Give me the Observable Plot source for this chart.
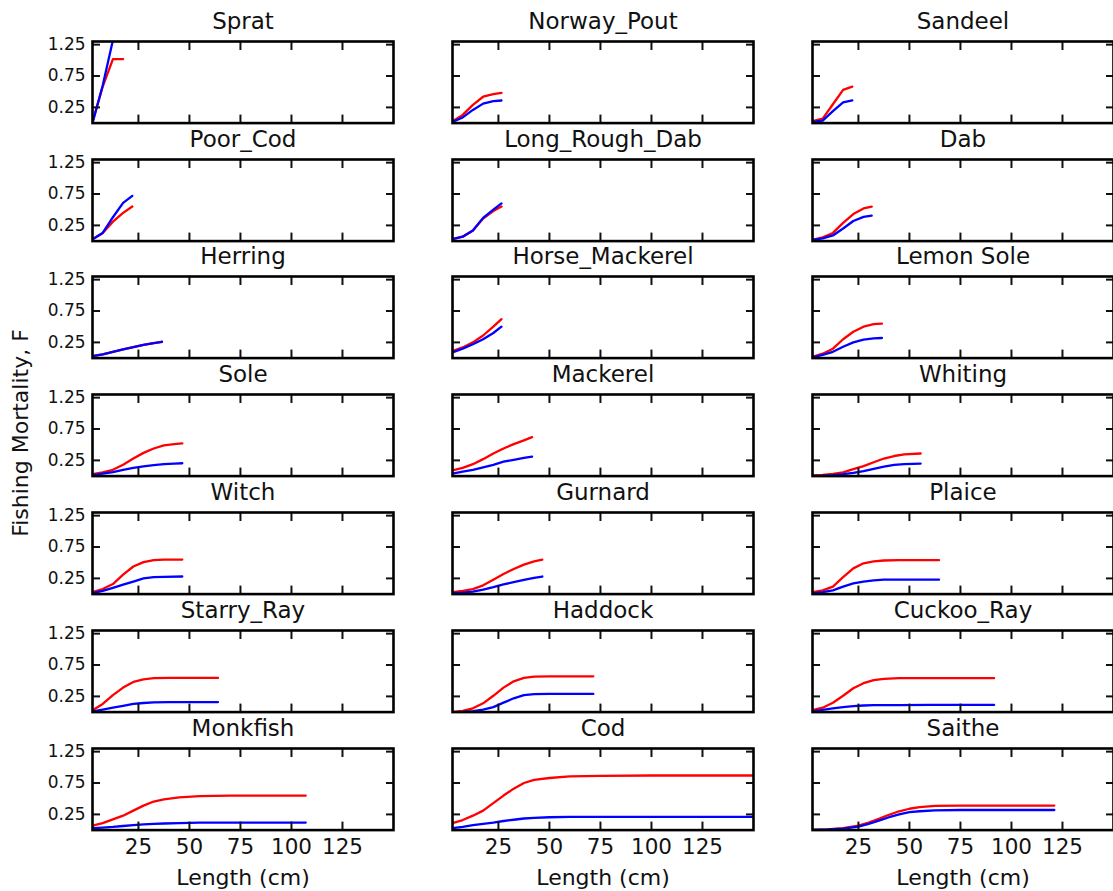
<!DOCTYPE html>
<html><head><meta charset="utf-8">
<script src="https://cdn.jsdelivr.net/npm/d3@7"></script>
<script src="https://cdn.jsdelivr.net/npm/@observablehq/plot@0.6"></script>
<style>
html,body{margin:0;padding:0;background:#fff;overflow:hidden}
#fig{position:relative;width:1113px;height:891px;font-family:"DejaVu Sans",sans-serif;color:#111}
#fig svg{position:absolute;overflow:visible;background:none}
#ylab{position:absolute;left:21px;top:433px;transform:translate(-50%,-50%) rotate(-90deg);white-space:nowrap;font-size:22px;line-height:1}
</style></head><body><div id="fig"><div id="ylab">Fishing Mortality, F</div></div>
<script>
// species names in grid order (row-major, 3 columns)
const species = ["Sprat","Norway_Pout","Sandeel","Poor_Cod","Long_Rough_Dab","Dab",
  "Herring","Horse_Mackerel","Lemon Sole","Sole","Mackerel","Whiting",
  "Witch","Gurnard","Plaice","Starry_Ray","Haddock","Cuckoo_Ray","Monkfish","Cod","Saithe"];
const xTicks = [25, 50, 75, 100, 125];
const yTicks = [0.25, 0.75, 1.25];
const xLabel = "Length (cm)";

// each row: [length (cm), F red series, F blue series]
const sprat = [[2.5,.02,0],[7.5,.58,.6],[12.5,1.02,1.32],[17.5,1.02,1.6]];
const norwayPout = [[2.5,.03,.02],[7.5,.13,.09],[12.5,.29,.21],[17.5,.42,.31],[22.5,.46,.35],[26.5,.48,.36]];
const sandeel = [[2.5,.03,.02],[7.5,.07,.04],[12.5,.30,.19],[17.5,.53,.33],[22,.58,.36]];
const poorCod = [[2.5,.03,.03],[7.5,.13,.13],[12.5,.31,.38],[17.5,.45,.61],[22,.55,.72]];
const longRoughDab = [[2.5,.03,.03],[7.5,.07,.07],[12.5,.17,.17],[17.5,.36,.37],[22.5,.48,.50],[26.5,.55,.60]];
const dab = [[2.5,.02,.02],[7.5,.06,.045],[12.5,.13,.09],[17.5,.29,.2],[22.5,.43,.32],[27.5,.52,.385],[31.5,.55,.405]];
const herring = [[2.5,.03,.03],[7.5,.06,.06],[12.5,.10,.10],[17.5,.14,.14],[22.5,.175,.175],[27.5,.21,.21],[32.5,.24,.24],[36.5,.26,.26]];
const horseMackerel = [[2.5,.11,.09],[7.5,.17,.15],[12.5,.25,.22],[17.5,.36,.30],[22.5,.50,.40],[26.5,.62,.50]];
const lemonSole = [[2.5,.02,.01],[7.5,.07,.05],[12.5,.15,.10],[17.5,.30,.18],[22.5,.42,.25],[27.5,.50,.295],[32.5,.54,.315],[36.5,.55,.32]];
const sole = [[2.5,.03,.015],[7.5,.06,.04],[12.5,.10,.065],[17.5,.18,.10],[22.5,.28,.13],[27.5,.37,.155],[32.5,.44,.175],[37.5,.49,.19],[42.5,.51,.20],[46.5,.52,.205]];
const mackerel = [[2.5,.09,.04],[7.5,.13,.07],[12.5,.19,.10],[17.5,.27,.14],[22.5,.36,.18],[27.5,.44,.23],[32.5,.51,.26],[37.5,.57,.29],[41.5,.62,.31]];
const whiting = [[2.5,.01,.005],[7.5,.02,.008],[12.5,.035,.015],[17.5,.06,.03],[22.5,.11,.05],[27.5,.16,.08],[32.5,.22,.115],[37.5,.28,.15],[42.5,.32,.18],[47.5,.345,.19],[55.5,.36,.20]];
const witch = [[2.5,.03,.015],[7.5,.08,.05],[12.5,.16,.10],[17.5,.31,.15],[22.5,.44,.20],[27.5,.51,.25],[32.5,.54,.27],[37.5,.55,.275],[46.5,.55,.28]];
const gurnard = [[2.5,.03,.015],[7.5,.05,.025],[12.5,.08,.04],[17.5,.14,.07],[22.5,.23,.11],[27.5,.32,.155],[32.5,.40,.19],[37.5,.47,.225],[42.5,.52,.26],[46.5,.55,.28]];
const plaice = [[2.5,.03,.01],[7.5,.06,.03],[12.5,.12,.06],[17.5,.27,.12],[22.5,.41,.17],[27.5,.49,.20],[32.5,.52,.22],[37.5,.535,.23],[45,.54,.23],[55,.54,.23],[64.5,.54,.23]];
const starryRay = [[2.5,.03,.01],[7.5,.13,.04],[12.5,.27,.07],[17.5,.39,.10],[22.5,.48,.13],[27.5,.52,.145],[32.5,.54,.155],[40,.545,.16],[50,.545,.16],[64,.545,.16]];
const haddock = [[2.5,.005,0],[7.5,.02,.005],[12.5,.06,.015],[17.5,.14,.04],[22.5,.26,.08],[27.5,.39,.15],[32.5,.49,.22],[37.5,.545,.27],[42.5,.565,.285],[50,.57,.29],[60,.57,.29],[71.5,.57,.29]];
const cuckooRay = [[2.5,.03,.01],[7.5,.07,.035],[12.5,.15,.06],[17.5,.26,.08],[22.5,.38,.095],[27.5,.46,.105],[32.5,.51,.11],[37.5,.53,.11],[45,.54,.11],[60,.54,.115],[75,.54,.115],[91.5,.54,.115]];
const monkfish = [[2.5,.07,.03],[7.5,.11,.04],[12.5,.17,.05],[17.5,.23,.065],[22.5,.31,.08],[27.5,.39,.09],[32.5,.455,.10],[37.5,.49,.105],[45,.52,.11],[55,.54,.12],[70,.55,.12],[85,.55,.12],[107,.55,.12]];
const cod = [[2.5,.11,.03],[7.5,.16,.05],[12.5,.23,.08],[17.5,.31,.10],[22.5,.43,.12],[27.5,.55,.145],[32.5,.66,.165],[37.5,.75,.185],[42.5,.80,.195],[50,.83,.205],[60,.855,.21],[75,.865,.21],[100,.87,.21],[125,.87,.21],[150,.87,.21]];
const saithe = [[2.5,.005,.005],[10,.01,.01],[17.5,.03,.025],[25,.07,.055],[30,.12,.10],[35,.18,.15],[40,.245,.205],[45,.30,.25],[50,.34,.285],[55,.365,.30],[62.5,.385,.315],[75,.39,.32],[100,.39,.32],[121,.39,.32]];

const series = [sprat, norwayPout, sandeel, poorCod, longRoughDab, dab, herring, horseMackerel, lemonSole,
  sole, mackerel, whiting, witch, gurnard, plaice, starryRay, haddock, cuckooRay, monkfish, cod, saithe];

// layout
const colLeft = [92.3, 452.3, 812.3];
const rowTop0 = 40.7, rowStep = 117.8, panelW = 301, panelH = 81.6;
const nRows = 7;
const fig = document.getElementById("fig");

species.forEach((name, i) => {
  const r = Math.floor(i / 3), c = i % 3;
  const bottomRow = r === nRows - 1, leftCol = c === 0;
  const ml = 60, mr = 10, mt = 36, mb = bottomRow ? 66 : 10;
  const data = series[i].map(([length, red, blue]) => ({length, red, blue}));
  const marks = [
    Plot.line(data, {x: "length", y: "red", stroke: "#ff0000", strokeWidth: 2.3, clip: true}),
    Plot.line(data, {x: "length", y: "blue", stroke: "#0000ff", strokeWidth: 2.3, clip: true}),
    Plot.axisX({anchor: "bottom", ticks: xTicks, tickSize: -8, tickFormat: () => "", label: null, strokeWidth: 2}),
    Plot.axisX({anchor: "top", ticks: xTicks, tickSize: -8, tickFormat: () => "", label: null, strokeWidth: 2}),
    Plot.axisY({anchor: "left", ticks: yTicks, tickSize: -8, tickFormat: () => "", label: null, strokeWidth: 2}),
    Plot.axisY({anchor: "right", ticks: yTicks, tickSize: -8, tickFormat: () => "", label: null, strokeWidth: 2}),
    Plot.frame({stroke: "#000", strokeWidth: 2.6}),
    Plot.text([name], {frameAnchor: "top", dy: -12, lineAnchor: "bottom", fontSize: 23, fill: "#111"})
  ];
  if (leftCol) marks.push(Plot.axisY({anchor: "left", ticks: yTicks, tickSize: 0, tickPadding: 7, tickFormat: d3.format(".2f"), label: null, fontSize: 17, fill: "#111"}));
  if (bottomRow) {
    marks.push(Plot.axisX({anchor: "bottom", ticks: xTicks, tickSize: 0, tickPadding: 9, label: null, fontSize: 21.5, fill: "#111"}));
    marks.push(Plot.text([xLabel], {frameAnchor: "bottom", dy: 55, lineAnchor: "bottom", fontSize: 22, fill: "#111"}));
  }
  const svg = Plot.plot({
    width: ml + panelW + mr, height: mt + panelH + mb,
    marginLeft: ml, marginRight: mr, marginTop: mt, marginBottom: mb,
    x: {domain: [2.5, 150]},
    y: {domain: [0, 1.3]},
    style: {background: "transparent", fontFamily: "DejaVu Sans", overflow: "visible"},
    marks
  });
  svg.style.left = (colLeft[c] - ml) + "px";
  svg.style.top = (rowTop0 + r * rowStep - mt) + "px";
  fig.appendChild(svg);
});
</script></body></html>
